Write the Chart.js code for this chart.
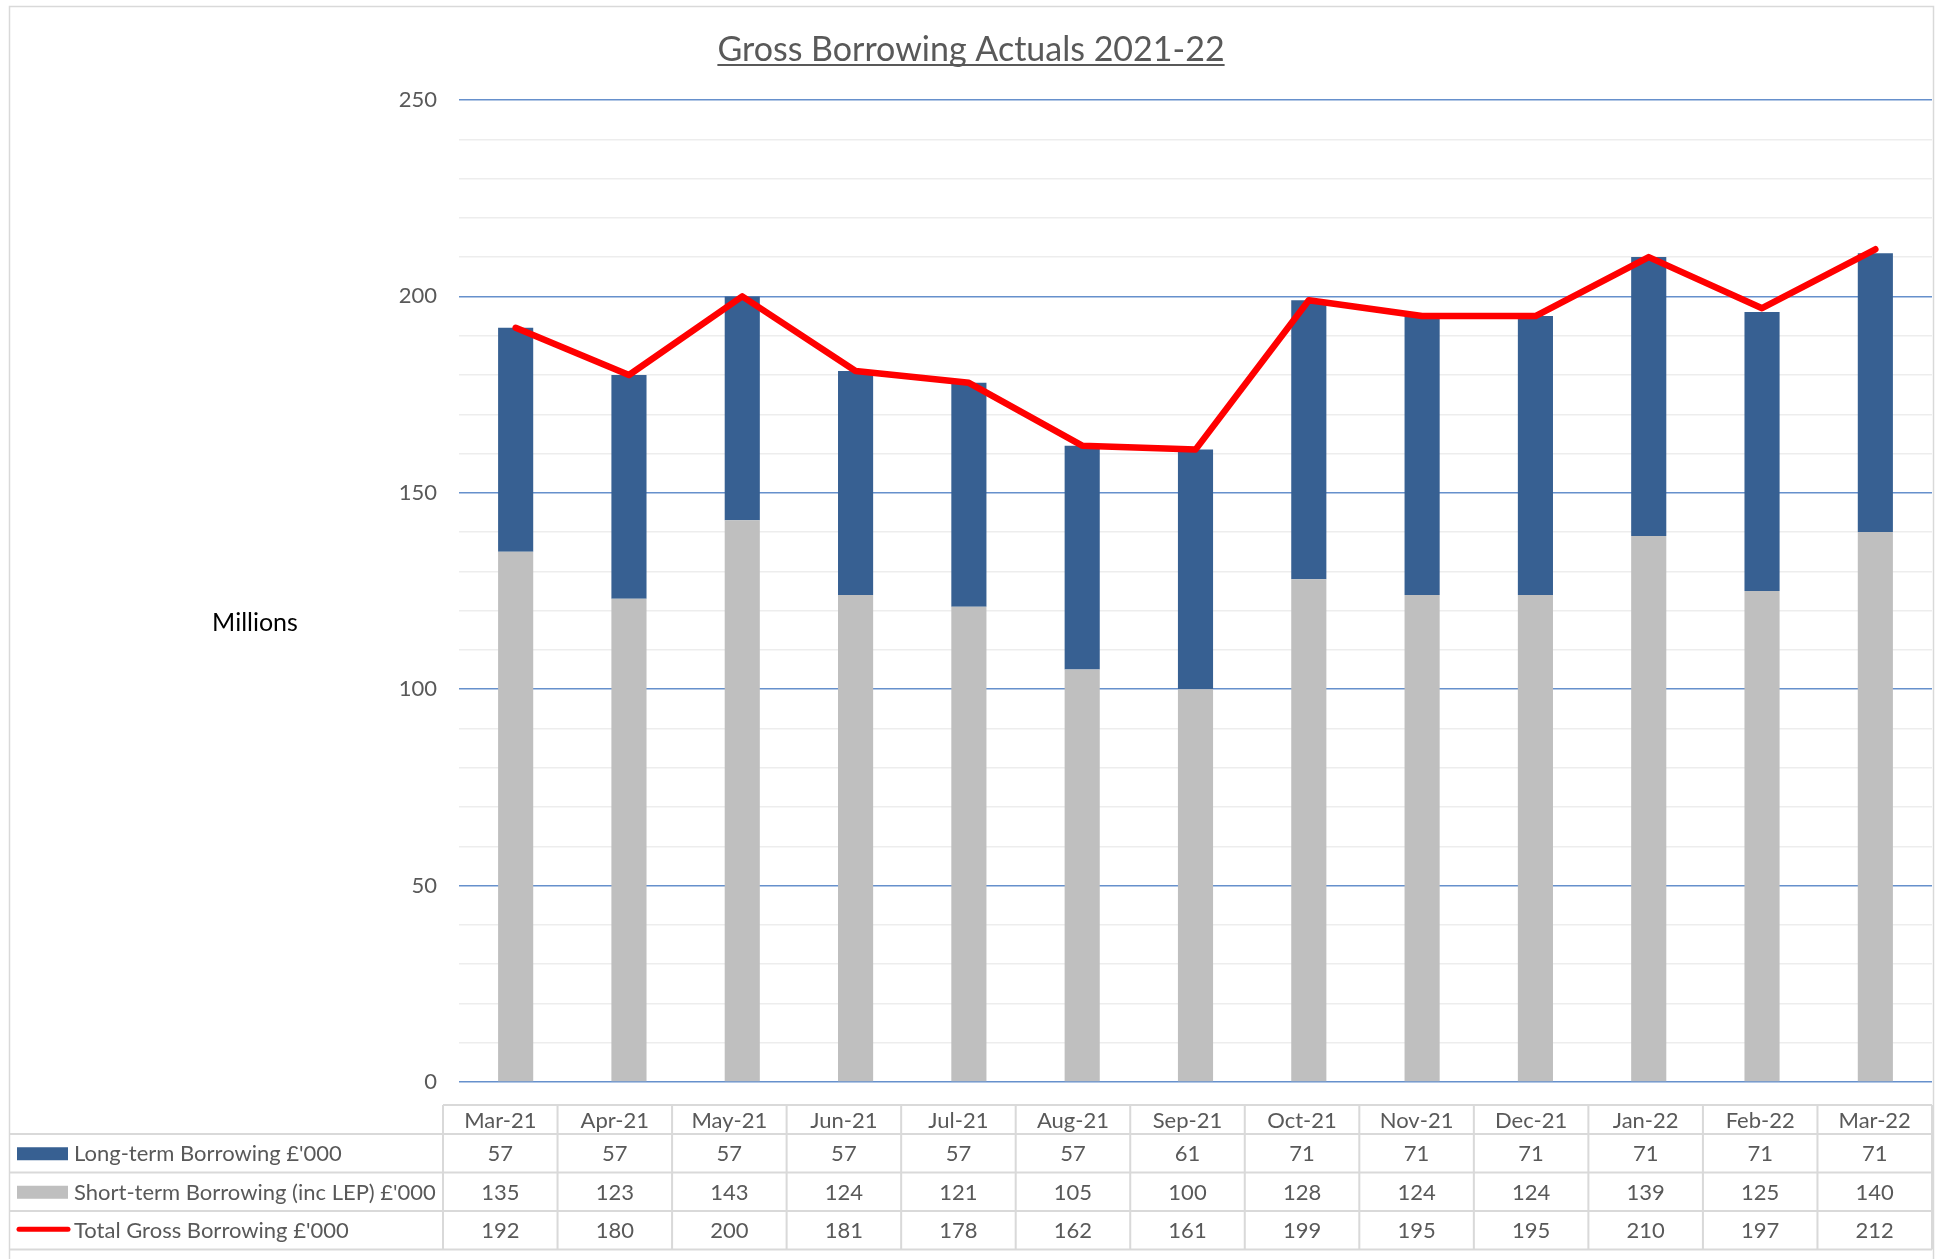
<!DOCTYPE html>
<html>
<head>
<meta charset="utf-8">
<script src="https://cdn.jsdelivr.net/npm/chart.js@4.4.1/dist/chart.umd.min.js"></script>
<style>
html,body{margin:0;padding:0;background:#fff;}
#wrap{position:relative;width:1939px;height:1259px;}
</style>
</head>
<body>
<div id="wrap"><canvas id="c" width="1939" height="1259"></canvas></div>
<script>
const categories = ['Mar-21','Apr-21','May-21','Jun-21','Jul-21','Aug-21','Sep-21','Oct-21','Nov-21','Dec-21','Jan-22','Feb-22','Mar-22'];
const longTerm   = [57, 57, 57, 57, 57, 57, 61, 71, 71, 71, 71, 71, 71];
const shortTerm  = [135, 123, 143, 124, 121, 105, 100, 128, 124, 124, 139, 125, 140];
const totalGross = [192, 180, 200, 181, 178, 162, 161, 199, 195, 195, 210, 197, 212];
const seriesNames = ["Long-term Borrowing £'000", "Short-term Borrowing (inc LEP) £'000", "Total Gross Borrowing £'000"];
const yTickLabels = [0, 50, 100, 150, 200, 250];
const chartTitle = 'Gross Borrowing Actuals 2021-22';
const yAxisTitle = 'Millions';

const FONT = 'Lato, "Open Sans", sans-serif';
const TEXT = '#595959';
const BLUE = '#376092';
const GREY = '#bfbfbf';
const RED = '#ff0000';

const decor = {
  id: 'decor',
  beforeDraw(chart) {
    const c = chart.ctx;
    c.save();
    c.fillStyle = '#fff';
    c.fillRect(0, 0, chart.width, chart.height);
    c.restore();
  },
  afterDraw(chart) {
    const ctx = chart.ctx, ca = chart.chartArea;
    ctx.save();
    // outer border
    ctx.strokeStyle = '#d9d9d9';
    ctx.lineWidth = 1.5;
    ctx.strokeRect(9.5, 6.5, 1933.5 - 9.5, 1300);
    // title
    ctx.font = '34px ' + FONT;
    ctx.fillStyle = TEXT;
    ctx.textAlign = 'center';
    ctx.textBaseline = 'alphabetic';
    const tx = 971;
    ctx.fillText(chartTitle, tx, 61);
    const tw = ctx.measureText(chartTitle).width;
    ctx.fillRect(tx - tw / 2, 64, tw, 2);
    // axis title
    ctx.font = '25px ' + FONT;
    ctx.fillStyle = '#000';
    ctx.textBaseline = 'middle';
    ctx.fillText(yAxisTitle, 255, 623);

    // data table
    const n = categories.length;
    const tl = ca.left - 16, tr = ca.right, cw = (tr - tl) / n;
    const rows = [1105, 1134, 1172.5, 1211, 1249.5];
    ctx.strokeStyle = '#d9d9d9';
    ctx.lineWidth = 2;
    ctx.beginPath();
    ctx.moveTo(tl, rows[0]); ctx.lineTo(tr, rows[0]);
    for (let i = 1; i < rows.length; i++) { ctx.moveTo(10, rows[i]); ctx.lineTo(tr, rows[i]); }
    for (let j = 0; j <= n; j++) {
      const x = tl + j * cw;
      ctx.moveTo(x, rows[0]); ctx.lineTo(x, rows[4]);
    }
    ctx.stroke();

    ctx.font = '22px ' + FONT;
    ctx.fillStyle = TEXT;
    ctx.textAlign = 'center';
    ctx.textBaseline = 'middle';
    for (let j = 0; j < n; j++) {
      const x = tl + (j + 0.5) * cw;
      ctx.fillText(categories[j], x, (rows[0] + rows[1]) / 2 + 1);
    }
    const series = [longTerm, shortTerm, totalGross];
    for (let r = 0; r < 3; r++) {
      const y = (rows[r + 1] + rows[r + 2]) / 2 + 1;
      for (let j = 0; j < n; j++) {
        const x = tl + (j + 0.5) * cw;
        ctx.fillText(String(series[r][j]), x, y);
      }
    }
    // row labels with keys
    ctx.textAlign = 'left';
    for (let r = 0; r < 3; r++) {
      const y = (rows[r + 1] + rows[r + 2]) / 2;
      if (r === 0) { ctx.fillStyle = BLUE; ctx.fillRect(17, y - 6, 51, 13); }
      else if (r === 1) { ctx.fillStyle = GREY; ctx.fillRect(17, y - 6, 51, 13); }
      else {
        ctx.strokeStyle = RED; ctx.lineWidth = 5; ctx.lineCap = 'round';
        ctx.beginPath(); ctx.moveTo(19, y - 1); ctx.lineTo(68, y - 1); ctx.stroke();
      }
      ctx.fillStyle = TEXT;
      ctx.fillText(seriesNames[r], 74, y + 1);
    }
    ctx.restore();
  }
};

new Chart(document.getElementById('c'), {
  data: {
    labels: categories,
    datasets: [
      { type: 'line', label: seriesNames[2], data: totalGross, borderColor: RED, backgroundColor: RED,
        borderWidth: 6.5, pointRadius: 0, tension: 0, borderCapStyle: 'round', borderJoinStyle: 'round',
        stack: 'total', order: 0 },
      { type: 'bar', label: seriesNames[1], data: shortTerm, backgroundColor: GREY, stack: 'bars', order: 1,
        barPercentage: 0.31, categoryPercentage: 1 },
      { type: 'bar', label: seriesNames[0], data: longTerm, backgroundColor: BLUE, stack: 'bars', order: 1,
        barPercentage: 0.31, categoryPercentage: 1 }
    ]
  },
  options: {
    responsive: false,
    animation: false,
    events: [],
    layout: { padding: { left: 0, right: 7, top: 100, bottom: 177 } },
    plugins: { legend: { display: false }, tooltip: { enabled: false }, title: { display: false } },
    scales: {
      x: { stacked: true, display: false, offset: true },
      y: {
        stacked: true, min: 0, max: 250,
        afterFit(scale) { scale.width = 459; },
        border: { display: false },
        grid: {
          drawTicks: false,
          color: (c) => (yTickLabels.includes(c.tick.value) ? '#6690cc' : '#ededed'),
          lineWidth: (c) => (yTickLabels.includes(c.tick.value) ? 1.6 : 1.4)
        },
        ticks: {
          stepSize: 10, autoSkip: false, padding: 22, color: TEXT,
          font: { family: FONT, size: 22 },
          callback: (v) => (yTickLabels.includes(v) ? String(v) : '')
        }
      }
    }
  },
  plugins: [decor]
});
</script>
</body>
</html>
